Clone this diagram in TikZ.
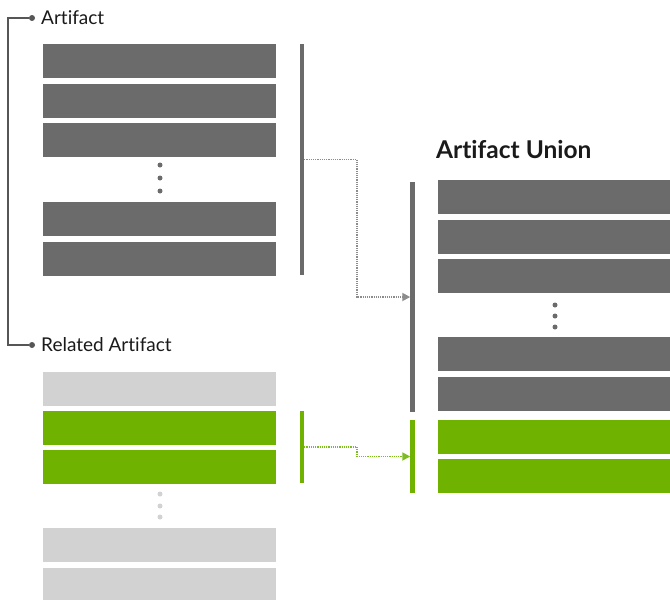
\documentclass[tikz,border=0pt]{standalone}
\usepackage{fontspec}
\setmainfont{Lato}[Ligatures=NoCommon]
\usetikzlibrary{arrows.meta}

\definecolor{BarGrey}{HTML}{6B6B6B}
\definecolor{BarLight}{HTML}{D2D2D2}
\definecolor{BarGreen}{HTML}{6FB300}
\definecolor{FlowGrey}{HTML}{8C8C8C}
\definecolor{FlowGreen}{HTML}{7DBE1E}
\definecolor{TextDark}{HTML}{1A1A1A}

\begin{document}
\begin{tikzpicture}[x=1pt, y=-1pt,
  bar/.style={rectangle, inner sep=0pt, outer sep=0pt, anchor=north west,
    minimum width=233pt, minimum height=34pt},
  vline/.style={rectangle, inner sep=0pt, outer sep=0pt, minimum width=4.5pt},
  gap/.style={circle, inner sep=0pt, minimum size=5pt},
  flow/.style={line width=1.8pt, dash pattern=on 1.2pt off 1pt,
    -{Triangle[length=8pt, width=8pt]}},
  label/.style={anchor=west, inner sep=0pt, text=TextDark, font=\fontsize{19}{22}\selectfont}]

 \useasboundingbox (0,0) rectangle (670,600) ;

  %%%%%%%%%% Artifact %%%%%%%%%%
 \node[bar, fill=BarGrey] (a1) at (43,44) {};
 \node[bar, fill=BarGrey] (a2) at (43,84) {};
 \node[bar, fill=BarGrey] (a3) at (43,123) {};
 \node[bar, fill=BarGrey] (a4) at (43,202) {};
 \node[bar, fill=BarGrey] (a5) at (43,242) {};
 \foreach \y in {165,178,191}
   \node[gap, fill=BarGrey] at (160,\y) {};
 \node[vline, fill=BarGrey, minimum height=231pt] (artline) at (302,159.5) {};

  %%%%%%%%%% Related Artifact %%%%%%%%%%
 \node[bar, fill=BarLight] (r1) at (43,372) {};
 \node[bar, fill=BarGreen] (r2) at (43,411) {};
 \node[bar, fill=BarGreen] (r3) at (43,450) {};
 \node[bar, fill=BarLight] (r4) at (43,528) {};
 \node[bar, fill=BarLight] (r5) at (43,568) {};
 \foreach \y in {494,506,517}
   \node[gap, fill=BarLight] at (160,\y) {};
 \node[vline, fill=BarGreen, minimum height=72pt] (relline) at (302,447) {};

  %%%%%%%%%% Artifact Union %%%%%%%%%%
 \node[anchor=base west, inner sep=0pt, text=TextDark, font=\fontsize{24.5}{28}\bfseries\selectfont] (title) at (436,158) {Artifact Union};
 \node[bar, fill=BarGrey, minimum width=232pt] (u1) at (438,180) {};
 \node[bar, fill=BarGrey, minimum width=232pt] (u2) at (438,220) {};
 \node[bar, fill=BarGrey, minimum width=232pt] (u3) at (438,259) {};
 \node[bar, fill=BarGrey, minimum width=232pt] (u4) at (438,337) {};
 \node[bar, fill=BarGrey, minimum width=232pt] (u5) at (438,377) {};
 \node[bar, fill=BarGreen, minimum width=232pt] (u6) at (438,420) {};
 \node[bar, fill=BarGreen, minimum width=232pt] (u7) at (438,459) {};
 \foreach \y in {305,316,327}
   \node[gap, fill=BarGrey] at (555,\y) {};
 \node[vline, fill=BarGrey, minimum height=230pt] (unionline) at (412.5,297) {};
 \node[vline, fill=BarGreen, minimum height=73pt] (greenline) at (412.5,456.5) {};

  %%%%%%%%%% Flows %%%%%%%%%%
 \coordinate (greybend) at (357,297) ;
 \coordinate (greenbend) at (357,456.5) ;
 \draw[flow, color=FlowGrey] (artline.east) -| (greybend) -- (unionline.west) ;
 \draw[flow, color=FlowGreen] (relline.east) -| (greenbend) -- (greenline.west) ;

  %%%%%%%%%% Labels %%%%%%%%%%
 \node[circle, fill=BarGrey!80!black, inner sep=0pt, minimum size=6pt] (artdot) at (32,18) {};
 \node[circle, fill=BarGrey!80!black, inner sep=0pt, minimum size=6pt] (reldot) at (32,345) {};
 \node[label] (artlabel) at (41,18) {Artifact};
 \node[label] (rellabel) at (41,345) {Related Artifact};
 \coordinate (corner) at (8,345) ;
 \draw[line width=1.3pt, color=BarGrey!80!black] (artdot) -| (corner) -- (reldot) ;

\end{tikzpicture}
\end{document}
